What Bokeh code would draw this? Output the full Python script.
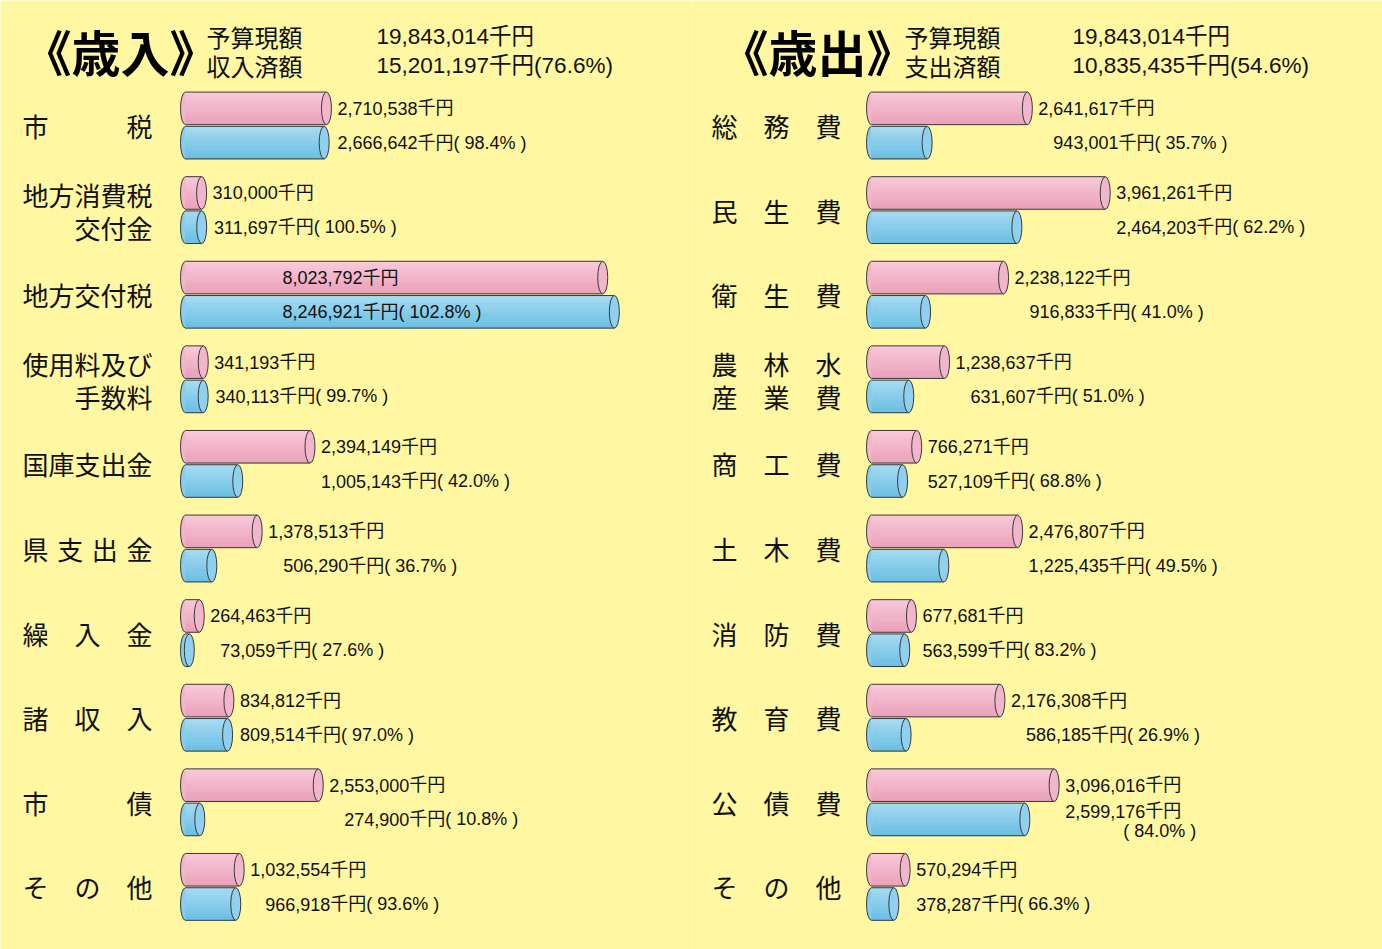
from bokeh.plotting import figure
from bokeh.layouts import row
from bokeh.models import ColumnDataSource, Range1d
from bokeh.core.properties import value
from bokeh.embed import file_html
from bokeh.resources import INLINE

# ---------------- data ----------------
rev_categories = ["市　　　税", "地方消費税\n交付金", "地方交付税", "使用料及び\n手数料", "国庫支出金",
                  "県\u2004支\u2004出\u2004金", "繰　入　金", "諸　収　入", "市　　　債", "そ　の　他"]
rev_budget = [2710538, 310000, 8023792, 341193, 2394149, 1378513, 264463, 834812, 2553000, 1032554]
rev_actual = [2666642, 311697, 8246921, 340113, 1005143, 506290, 73059, 809514, 274900, 966918]

exp_categories = ["総　務　費", "民　生　費", "衛　生　費", "農　林　水\n産　業　費", "商　工　費",
                  "土　木　費", "消　防　費", "教　育　費", "公　債　費", "そ　の　他"]
exp_budget = [2641617, 3961261, 2238122, 1238637, 766271, 2476807, 677681, 2176308, 3096016, 570294]
exp_actual = [943001, 2464203, 916833, 631607, 527109, 1225435, 563599, 586185, 2599176, 378287]

rev_title = "《歳入》"
exp_title = "《歳出》"
rev_header_labels = ["予算現額", "収入済額"]
rev_header_values = ["19,843,014千円", "15,201,197千円(76.6%)"]
exp_header_labels = ["予算現額", "支出済額"]
exp_header_values = ["19,843,014千円", "10,835,435千円(54.6%)"]

# ---------------- style ----------------
W, H = 691, 949
ROW0, PITCH = 125.0, 84.6
BG = "#FFF7A1"
PINK_TOP, PINK_BOT, PINK_CAP = (249, 202, 220), (234, 160, 185), "#F1B6CB"
BLUE_TOP, BLUE_BOT, BLUE_CAP = (168, 220, 243), (104, 190, 228), "#8FD0EE"
OUTLINE = "#3a3a3a"
CJK = value("Noto Sans CJK JP")
NUMF = value("Liberation Sans, Noto Sans CJK JP")
HEADF = value("Liberation Sans, Noto Sans CJK JP")
NUM_SIZE = 18
CAP_W = 10
NBANDS = 10


def lerp(c1, c2, t):
    return "#%02x%02x%02x" % tuple(int(round(a + (b - a) * t)) for a, b in zip(c1, c2))


def num_width(s, size):
    w = 0.0
    for ch in s:
        if ch.isdigit():
            w += 0.556
        elif ch in ", .":
            w += 0.278
        else:
            w += 1.0
    return w * size


def fmt(v):
    return f"{v:,}"


def make_panel(cats, budget, actual, title, hlabels, hvalues, origin_px, px_per_m,
               cat_align, cat_x, title_x, hl_x, hv_x, wrap_rows):
    s = px_per_m / 1e6
    x0 = -origin_px / s
    x1 = x0 + W / s
    y_bottom = (H - ROW0) / PITCH
    y_top = -ROW0 / PITCH

    def px_x(px):
        return x0 + px / s

    def px_y(py):
        return (py - ROW0) / PITCH

    p = figure(width=W, height=H, output_backend="svg", toolbar_location=None,
               x_range=Range1d(x0, x1), y_range=Range1d(y_bottom, y_top),
               min_border=0, background_fill_color=BG, border_fill_color=BG,
               outline_line_color=None)
    p.axis.visible = False
    p.grid.visible = False

    half = 0.385
    gap = 0.01
    bars = []  # (value, ytop, ybot, ctop, cbot, cap)
    for i, (b, a) in enumerate(zip(budget, actual)):
        bars.append((b, i - half - gap, i - gap, PINK_TOP, PINK_BOT, PINK_CAP))
        bars.append((a, i + gap, i + half + gap, BLUE_TOP, BLUE_BOT, BLUE_CAP))

    # left rounded ends
    p.ellipse(x=[0] * len(bars), y=[(b[1] + b[2]) / 2 for b in bars],
              width=CAP_W, width_units="screen", height=half,
              fill_color=[lerp(b[3], b[4], 0.5) for b in bars],
              line_color=OUTLINE, line_width=1)

    # gradient body
    band = dict(left=[], right=[], top=[], bottom=[], color=[])
    for v, yt, yb, ct, cb, _ in bars:
        for j in range(NBANDS):
            band["left"].append(0)
            band["right"].append(v)
            band["top"].append(yt + (yb - yt) * j / NBANDS)
            band["bottom"].append(yt + (yb - yt) * (j + 1) / NBANDS)
            band["color"].append(lerp(ct, cb, (j + 0.5) / NBANDS))
    p.quad(left="left", right="right", top="top", bottom="bottom",
           fill_color="color", line_color="color", line_width=0.6,
           source=ColumnDataSource(band))

    # top / bottom outline
    p.segment(x0=[0] * len(bars) * 2, x1=[b[0] for b in bars] * 2,
              y0=[b[1] for b in bars] + [b[2] for b in bars],
              y1=[b[1] for b in bars] + [b[2] for b in bars],
              line_color=OUTLINE, line_width=1)

    # right caps
    p.ellipse(x=[b[0] for b in bars], y=[(b[1] + b[2]) / 2 for b in bars],
              width=CAP_W, width_units="screen", height=half,
              fill_color=[b[5] for b in bars], line_color=OUTLINE, line_width=1)

    # value labels
    num_x, num_y, num_off, num_yoff, num_txt = [], [], [], [], []
    suf_x, suf_y, suf_off, suf_yoff, suf_txt = [], [], [], [], []
    for i, (b, a) in enumerate(zip(budget, actual)):
        pnum, anum = fmt(b), fmt(a)
        pct = a / b * 100
        nw = num_width(pnum, NUM_SIZE)
        lead = CAP_W / 2 + 6
        if origin_px + b * s + lead + nw + 2 * NUM_SIZE > W - 4:
            ax, off = 0, 97 + nw
        else:
            ax, off = b, lead + nw
        yp, ya = i - half / 2 - gap, i + half / 2 + gap
        num_x += [ax, ax]; num_y += [yp, ya]; num_txt += [pnum, anum]
        num_off += [off, off]
        suf_x += [ax]; suf_y += [yp]; suf_txt += ["千円"]; suf_off += [off]; suf_yoff += [0]
        if i in wrap_rows:
            num_yoff += [0, -8]
            suf_x += [ax, ax]; suf_y += [ya, ya]
            suf_txt += ["千円", f"( {pct:.1f}% )"]
            suf_off += [off, off - 22]
            suf_yoff += [-8, 12]
        else:
            num_yoff += [0, 0]
            suf_x += [ax]; suf_y += [ya]; suf_txt += [f"千円( {pct:.1f}% )"]
            suf_off += [off]; suf_yoff += [0]
    p.text(x=num_x, y=num_y, text=num_txt, x_offset=num_off, y_offset=num_yoff,
           text_align="right", text_baseline="middle", text_font=NUMF,
           text_font_size=f"{NUM_SIZE}px", text_color="#111111")
    p.text(x=suf_x, y=suf_y, text=suf_txt, x_offset=suf_off, y_offset=suf_yoff,
           text_align="left", text_baseline="middle", text_font=NUMF,
           text_font_size=f"{NUM_SIZE}px", text_color="#111111")

    # category labels
    cx, cy, ct, cyo = [], [], [], []
    for i, c in enumerate(cats):
        lines = c.split("\n")
        if len(lines) == 1:
            cx.append(px_x(cat_x)); cy.append(i); ct.append(c); cyo.append(0)
        else:
            for k, ln in enumerate(lines):
                cx.append(px_x(cat_x)); cy.append(i); ct.append(ln)
                cyo.append(-16 if k == 0 else 17)
    p.text(x=cx, y=cy, text=ct, y_offset=cyo, text_align=cat_align,
           text_baseline="middle", text_font=CJK, text_font_size="26px",
           text_color="#111111")

    # header
    p.text(x=[px_x(title_x)], y=[px_y(50)], text=[title], text_align="left",
           text_baseline="middle", text_font=CJK, text_font_size="49px",
           text_font_style="bold", text_color="#000000")
    p.text(x=[px_x(hl_x)] * 2, y=[px_y(36), px_y(65)], text=hlabels, text_align="left",
           text_baseline="middle", text_font=CJK, text_font_size="24px",
           text_color="#111111")
    p.text(x=[px_x(hv_x)] * 2, y=[px_y(36), px_y(65)], text=hvalues, text_align="left",
           text_baseline="middle", text_font=HEADF, text_font_size="22.5px",
           text_color="#111111")
    return p


p1 = make_panel(rev_categories, rev_budget, rev_actual, rev_title,
                rev_header_labels, rev_header_values,
                origin_px=185, px_per_m=52, cat_align="right", cat_x=152,
                title_x=22, hl_x=206, hv_x=376, wrap_rows=set())
p2 = make_panel(exp_categories, exp_budget, exp_actual, exp_title,
                exp_header_labels, exp_header_values,
                origin_px=180, px_per_m=59, cat_align="left", cat_x=20,
                title_x=28, hl_x=213, hv_x=381, wrap_rows={8})

layout = row(p1, p2, spacing=0)
open("out.html", "w").write(file_html(layout, INLINE))
